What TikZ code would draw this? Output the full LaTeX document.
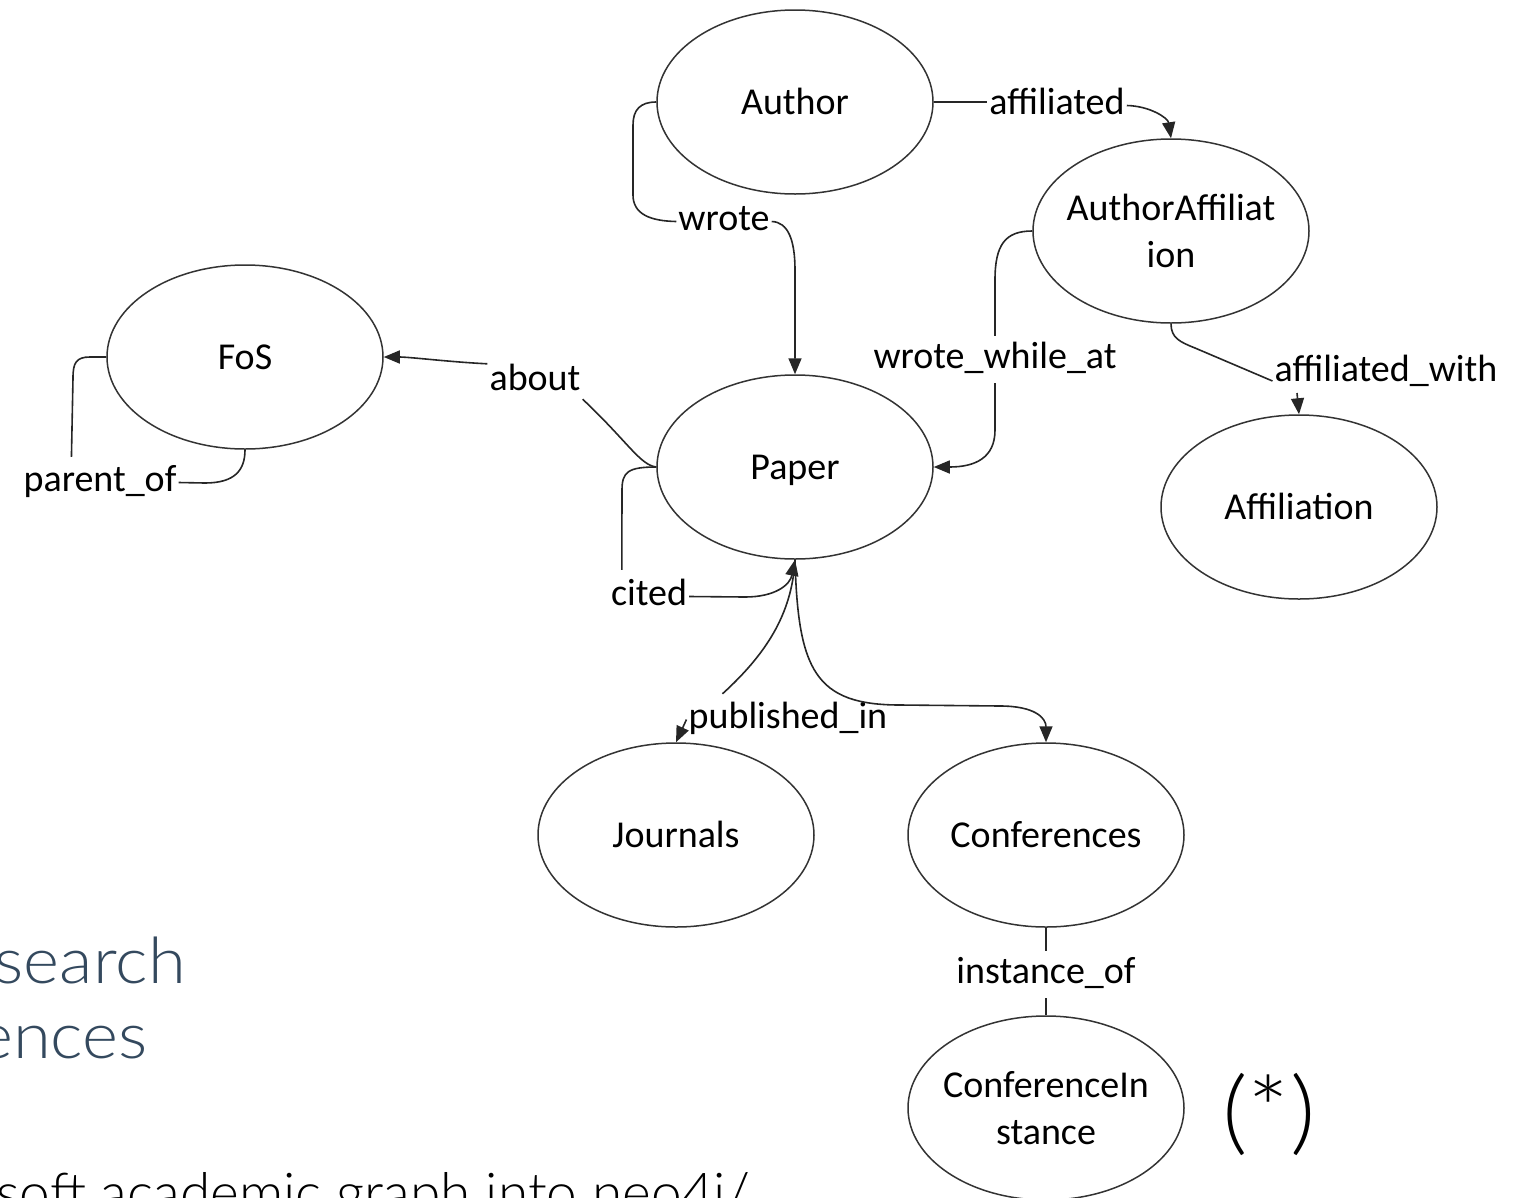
\documentclass[tikz,border=0pt]{standalone}
\usepackage{fontspec}
\setmainfont{Carlito}
\newfontfamily\slidefont{Lato Light}[FakeStretch=1.075]
\newfontfamily\slidenarrow{Lato Light}
\usetikzlibrary{shapes.geometric,arrows.meta,calc}
\definecolor{slate}{RGB}{52,73,94}
\begin{document}
\begin{tikzpicture}[x=1pt,y=-1pt,
  ent/.style={ellipse,draw=black!80,line width=1.5pt,minimum width=276pt,minimum height=184pt,
    inner xsep=-10pt,inner ysep=0pt,font=\fontsize{38}{47}\selectfont,align=center},
  one/.style={text height=25pt,text depth=0pt},
  lab/.style={font=\fontsize{38}{47}\selectfont,inner sep=2pt,text height=24pt,text depth=7pt,anchor=base},
  edge/.style={draw=black!85,line width=1.6pt},
  arr/.style={-{Triangle[length=16pt,width=13pt]}},
  slide/.style={inner sep=0pt}]
\useasboundingbox (0,0) rectangle (1529,1197);
\clip (0,0) rectangle (1529,1197);

% background slide text
\node[slide,font=\slidefont\fontsize{64}{75}\selectfont,text=slate,anchor=base east] (s1) at (186,983) {search};
\node[slide,font=\slidefont\fontsize{64}{75}\selectfont,text=slate,anchor=base east] (s2) at (148,1058) {ences};
\node[slide,font=\slidenarrow\fontsize{55}{55}\selectfont,anchor=base east] (s3) at (750,1212) {soft academic graph into neo4j/};
\node[slide,font=\slidefont\fontsize{92}{92}\selectfont,anchor=base] (star) at (1269,1143) {(*)};

% entities
\node[ent,one] (Author) at (795,102) {Author};
\node[ent] (AA) at (1171,231) {AuthorAffiliat\\ion};
\node[ent,one] (FoS) at (245,357) {FoS};
\node[ent,one] (Paper) at (795,467) {Paper};
\node[ent,one] (Affiliation) at (1299,507) {Affiliation};
\node[ent,one] (Journals) at (676,835) {Journals};
\node[ent,one] (Conferences) at (1046,835) {Conferences};
\node[ent] (CI) at (1046,1108) {ConferenceIn\\stance};

% relation labels
\node[lab] (wrote) at (724,230) {wrote};
\node[lab] (affiliated) at (1057,114) {affiliated};
\node[lab,inner ysep=8pt] (wwa) at (995,368) {wrote\_while\_at};
\node[lab] (aw) at (1386,381) {affiliated\_with};
\node[lab] (about) at (535,390) {about};
\node[lab] (parentof) at (100,491) {parent\_of};
\node[lab] (cited) at (649,605) {cited};
\node[lab] (pub) at (788,728) {published\_in};
\node[lab,inner ysep=8pt] (inst) at (1046,983) {instance\_of};

% helper coordinates at label ends
\path (parentof.north west) ++(50,-8) coordinate (pofTop);
\path (cited.north west) ++(13,-9) coordinate (citedTop);
\path (pub.north west) ++(36,-8) coordinate (pubTop);
\coordinate (awfoot) at (1297,393);

% connectors
\draw[edge] (Author.west) .. controls (640,102) and (633,110) .. (633,125) -- (633,195)
  .. controls (633,214) and (650,221) .. (wrote.west);
\draw[edge,arr] (wrote.east) .. controls (788,222) and (795,240) .. (795,270) -- (Paper.north);

\draw[edge] (Author.east) -- (affiliated.west |- Author.east);
\draw[edge,arr] (affiliated.east) .. controls (1150,106) and (1168,118) .. (AA.north);

\draw[edge] (AA.west) .. controls (1005,231) and (995,245) .. (995,280) -- (wwa.north);
\draw[edge,arr] (wwa.south) -- (995,430) .. controls (995,458) and (975,467) .. (Paper.east);

\draw[edge] (AA.south) .. controls (1171,338) and (1180,342) .. (1195,348) -- (aw.base west);
\draw[edge,arr] (awfoot) -- (Affiliation.north);

\draw[edge] (Paper.west) .. controls (640,465) and (628,442) .. (about.south east);
\draw[edge,arr] (about.north west) .. controls (450,362) and (410,357) .. (FoS.east);

\draw[edge] (FoS.west) -- (90,357) .. controls (76,357) and (73,363) .. (73,378) -- (pofTop);
\draw[edge] (parentof.east) -- (205,483) .. controls (235,483) and (245,470) .. (FoS.south);

\draw[edge] (Paper.west) .. controls (628,467) and (622,472) .. (622,490) -- (citedTop);
\draw[edge,arr] (cited.east) -- (745,597) .. controls (775,597) and (790,585) .. (Paper.south);

\draw[edge] (Paper.south) .. controls (792,615) and (765,655) .. (pubTop);
\draw[edge,arr] (pub.west) -- (Journals.north);
\draw[edge,arr] (Paper.south) .. controls (798,670) and (815,705) .. (900,705) -- (1000,706)
  .. controls (1035,706) and (1046,718) .. (Conferences.north);

\draw[edge] (Conferences.south) -- (inst.north);
\draw[edge] (inst.south) -- (CI.north);
\end{tikzpicture}
\end{document}
